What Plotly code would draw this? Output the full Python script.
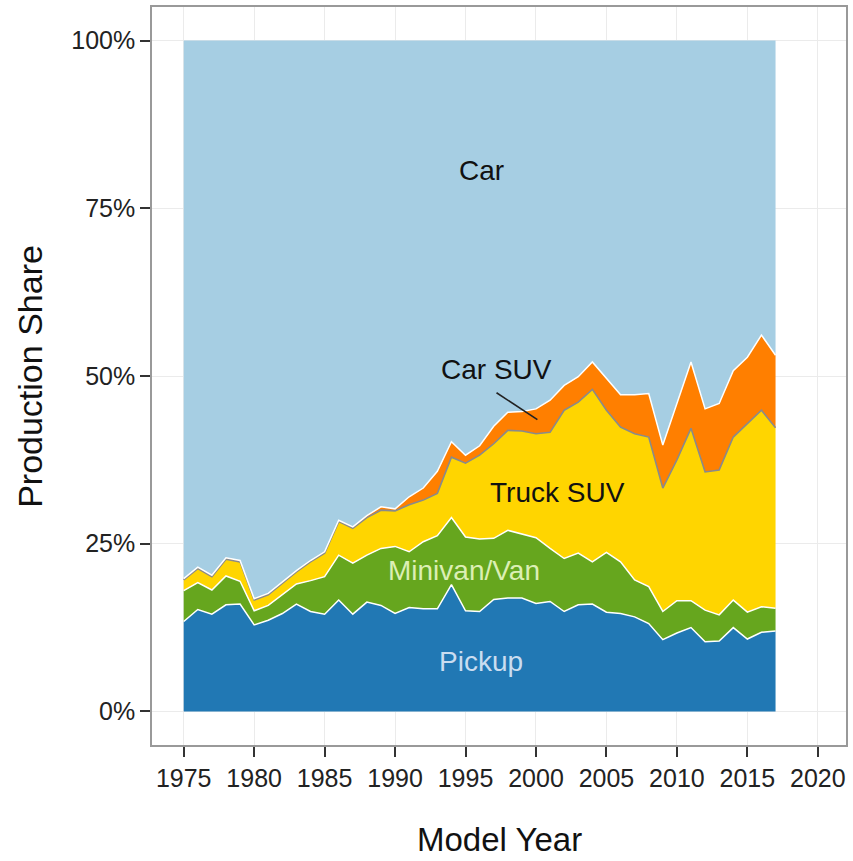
import plotly.graph_objects as go

years = list(range(1975, 2018))

pickup = [13.4, 15.2, 14.5, 15.9, 16.0, 12.9, 13.6, 14.6, 16.0, 14.9,
          14.5, 16.6, 14.5, 16.3, 15.8, 14.6, 15.5, 15.3, 15.3, 18.9,
          15.0, 14.9, 16.7, 16.9, 16.9, 16.1, 16.4, 14.9, 15.9, 16.0,
          14.8, 14.6, 14.1, 13.1, 10.7, 11.7, 12.5, 10.4, 10.5, 12.5,
          10.8, 11.8, 12.0]
minivan_van = [4.6, 4.0, 3.6, 4.3, 3.4, 2.1, 2.2, 2.8, 3.0, 4.6,
               5.6, 6.7, 7.6, 7.0, 8.5, 10.0, 8.3, 10.0, 10.9, 10.0,
               11.0, 10.8, 9.1, 10.1, 9.5, 9.8, 7.9, 7.9, 7.7, 6.3,
               8.9, 7.7, 5.5, 5.5, 4.2, 4.8, 4.0, 4.7, 3.9, 4.1,
               4.0, 3.8, 3.4]
truck_suv = [1.6, 2.1, 2.0, 2.5, 2.9, 1.6, 1.6, 1.7, 1.8, 2.8,
             3.5, 5.0, 5.2, 5.6, 5.7, 5.3, 7.0, 6.2, 6.3, 9.0,
             11.0, 12.5, 14.1, 14.9, 15.4, 15.5, 17.3, 22.1, 22.5, 25.7,
             21.2, 20.1, 21.8, 22.3, 18.4, 21.0, 25.7, 20.6, 21.6, 24.3,
             28.1, 29.3, 26.9]
car_suv = [0.2, 0.2, 0.2, 0.2, 0.2, 0.2, 0.2, 0.2, 0.2, 0.2,
           0.2, 0.2, 0.2, 0.3, 0.5, 0.3, 1.2, 1.8, 3.3, 2.3,
           1.2, 1.4, 2.6, 2.7, 2.9, 3.7, 4.8, 3.7, 3.8, 4.1,
           4.7, 4.8, 5.8, 6.5, 6.4, 8.4, 9.9, 9.4, 9.9, 9.9,
           9.9, 11.2, 10.8]
car = [80.2, 78.5, 79.7, 77.1, 77.5, 83.2, 82.4, 80.7, 79.0, 77.5,
       76.2, 71.5, 72.5, 70.8, 69.5, 69.8, 68.0, 66.7, 64.2, 59.8,
       61.8, 60.4, 57.5, 55.4, 55.3, 54.9, 53.6, 51.4, 50.1, 47.9,
       50.4, 52.8, 52.8, 52.6, 60.3, 54.1, 47.9, 54.9, 54.1, 49.2,
       47.2, 43.9, 46.9]

x_ticks = [1975, 1980, 1985, 1990, 1995, 2000, 2005, 2010, 2015, 2020]
y_ticks = [0, 25, 50, 75, 100]
y_ticktext = ["0%", "25%", "50%", "75%", "100%"]

series = [
    ("Pickup", pickup, "#2178B4", "white", 1.5),
    ("Minivan/Van", minivan_van, "#66A61E", "white", 1.5),
    ("Truck SUV", truck_suv, "#FFD500", "#8a8a8a", 1.6),
    ("Car SUV", car_suv, "#FF7F00", "white", 1.5),
    ("Car", car, "#A6CEE3", "rgba(0,0,0,0)", 0),
]

fig = go.Figure()
for name, vals, fc, lc, lw in series:
    fig.add_trace(go.Scatter(
        x=years, y=vals, name=name, stackgroup="one", mode="lines",
        fillcolor=fc, line=dict(color=lc, width=lw),
        hoverinfo="x+y+name",
    ))

FONT = "Liberation Sans, Arial, sans-serif"

labels = [
    ("Car", 1996.1, 80.7, "#111111"),
    ("Car SUV", 1997.2, 50.9, "#111111"),
    ("Truck SUV", 2001.5, 32.7, "#111111"),
    ("Minivan/Van", 1994.9, 21.0, "#DCEFB4"),
    ("Pickup", 1996.1, 7.4, "#CADDF0"),
]
for txt, lx, ly, col in labels:
    fig.add_annotation(x=lx, y=ly, text=txt, showarrow=False,
                       font=dict(family=FONT, size=28, color=col),
                       xanchor="center", yanchor="middle")

fig.add_shape(type="line", x0=1997.2, y0=47.5, x1=2000.1, y1=43.5,
              line=dict(color="#222222", width=1.6))

fig.add_annotation(x=0.5, y=-0.1556, xref="paper", yref="paper",
                   text="Model Year", showarrow=False,
                   font=dict(family=FONT, size=33, color="#111111"),
                   xanchor="center", yanchor="bottom")
fig.add_annotation(x=-0.176, y=0.5, xref="paper", yref="paper",
                   text="Production Share", showarrow=False, textangle=-90,
                   font=dict(family=FONT, size=34, color="#111111"),
                   xanchor="center", yanchor="middle")

fig.update_layout(
    width=853, height=861,
    margin=dict(l=152, r=5, t=6, b=116),
    plot_bgcolor="white", paper_bgcolor="white",
    showlegend=False,
    font=dict(family=FONT, size=25, color="#222222"),
    xaxis=dict(range=[1972.75, 2022.0], tickvals=x_ticks,
               showgrid=True, gridcolor="#EBEBEB", gridwidth=1.2,
               zeroline=False, showline=True, mirror=True,
               linecolor="#999999", linewidth=1.5,
               ticks="outside", ticklen=10, tickwidth=1.5, tickcolor="#333333",
               tickfont=dict(family=FONT, size=25, color="#222222")),
    yaxis=dict(range=[-5, 105], tickvals=y_ticks, ticktext=y_ticktext,
               showgrid=True, gridcolor="#EBEBEB", gridwidth=1.2,
               zeroline=False, showline=True, mirror=True,
               linecolor="#999999", linewidth=1.5,
               ticks="outside", ticklen=10, tickwidth=1.5, tickcolor="#333333",
               tickfont=dict(family=FONT, size=25, color="#222222")),
)

fig.write_html(
    "out.html",
    config={"displayModeBar": False},
    post_script="document.body.style.margin='0';document.body.style.padding='0';document.body.style.overflow='hidden';",
)
